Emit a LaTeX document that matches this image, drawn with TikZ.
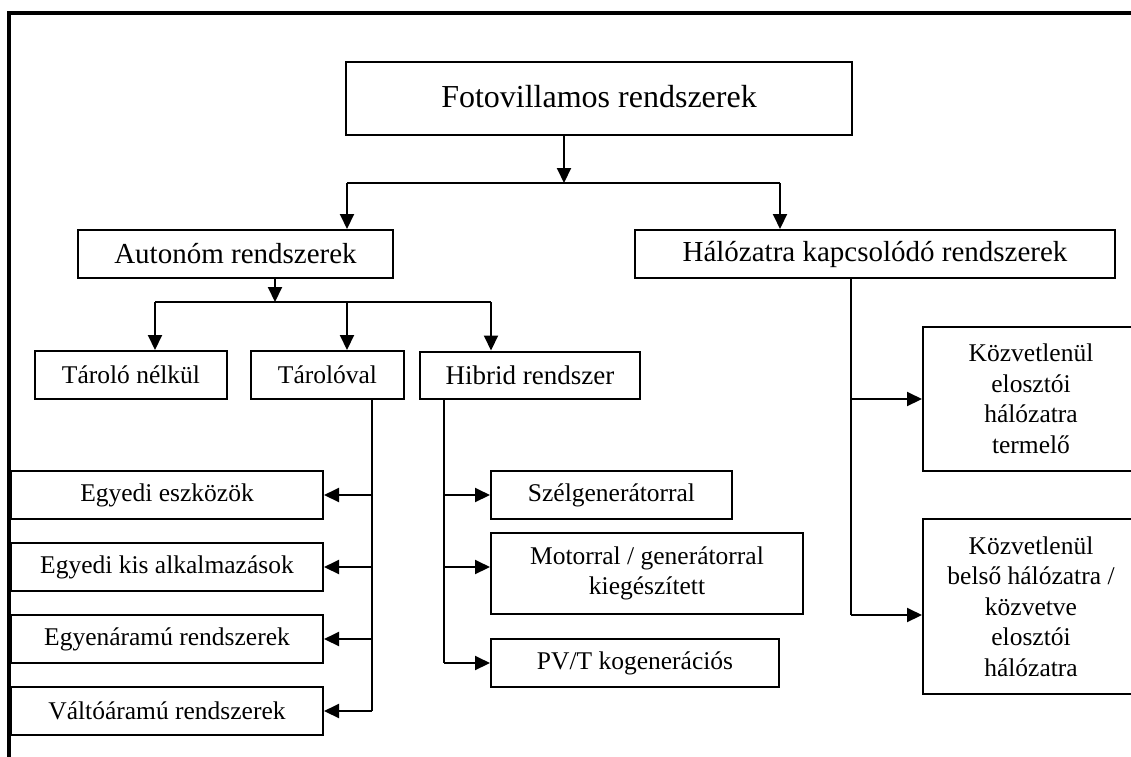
\documentclass[tikz,border=0pt]{standalone}
\usepackage{fontspec}
\setmainfont{Liberation Serif}
\usetikzlibrary{positioning}
\usetikzlibrary{arrows.meta}
\newcommand\nagybetu{\fontsize{32}{38}\selectfont}
\newcommand\kozepbetu{\fontsize{29}{34}\selectfont}
\newcommand\kisbetu{\fontsize{25.5}{30.5}\selectfont}
\tikzstyle{block} = [rectangle, draw=black, line width=2pt, inner sep=0pt, align=center, font=\kisbetu]
\tikzstyle{conn} = [line width=2pt]
\tikzstyle{arrow} = [line width=2pt, -{Triangle[length=15pt,width=14pt]}]

\begin{document}
\begin{tikzpicture}[x=1pt,y=-1pt]
\clip (0,0) rectangle (1131,756);
% keret
\draw[line width=3.6pt] (9,800) -- (9,13) -- (1200,13);
% dobozok
\node[block, minimum width=506pt, minimum height=73pt, font=\nagybetu] (foto) at (599,98.5) {\raisebox{5pt}{Fotovillamos rendszerek}};
\node[block, minimum width=315pt, minimum height=48pt, font=\kozepbetu] (auto) at (235.5,254) {Autonóm rendszerek};
\node[block, minimum width=480pt, minimum height=48pt, font=\kozepbetu] (halo) at (875,254) {Hálózatra kapcsolódó rendszerek};
\node[block, minimum width=192pt, minimum height=48pt] (nelk) at (131,375) {Tároló nélkül};
\node[block, minimum width=153pt, minimum height=48pt] (taro) at (327.5,375) {Tárolóval};
\node[block, minimum width=220pt, minimum height=47pt, font=\fontsize{27}{32}\selectfont] (hibr) at (530,375) {Hibrid rendszer};
\node[block, minimum width=312pt, minimum height=48pt] (egy1) at (167,495) {Egyedi eszközök};
\node[block, minimum width=312pt, minimum height=48pt] (egy2) at (167,567) {Egyedi kis alkalmazások};
\node[block, minimum width=312pt, minimum height=48pt] (egy3) at (167,639) {Egyenáramú rendszerek};
\node[block, minimum width=312pt, minimum height=48pt] (valt) at (167,711) {Váltóáramú rendszerek};
\node[block, minimum width=241pt, minimum height=48pt] (szel) at (611.5,495) {Szélgenerátorral};
\node[block, minimum width=312pt, minimum height=81pt] (moto) at (647,573.5) {Motorral / generátorral\\kiegészített};
\node[block, minimum width=288pt, minimum height=48pt] (pvt) at (635,663) {PV/T kogenerációs};
\node[block, minimum width=216pt, minimum height=144pt] (kozv1) at (1031,399) {Közvetlenül\\elosztói\\hálózatra\\termelő};
\node[block, minimum width=216pt, minimum height=175pt] (kozv2) at (1031,606.5) {Közvetlenül\\belső hálózatra /\\közvetve\\elosztói\\hálózatra};
% felso elagazas
\coordinate (f1) at (564,183);
\coordinate (f2) at (347,183);
\coordinate (f3) at (780,183);
\draw[arrow] (foto.south -| f1) -- (f1);
\draw[conn] (f2) -- (f3);
\draw[arrow] (f2) -- (f2 |- auto.north);
\draw[arrow] (f3) -- (f3 |- halo.north);
% autonom elagazas
\coordinate (a1) at (275,302);
\coordinate (a2) at (155,302);
\coordinate (a3) at (347,302);
\coordinate (a4) at (491,302);
\draw[arrow] (auto.south -| a1) -- (a1);
\draw[conn] (a2) -- (a4);
\draw[arrow] (a2) -- (a2 |- nelk.north);
\draw[arrow] (a3) -- (a3 |- taro.north);
\draw[arrow] (a4) -- (a4 |- hibr.north);
% tarolóval
\coordinate (t0) at (372,0);
\draw[conn] (taro.south -| t0) -- (valt.east -| t0);
\foreach \n in {egy1,egy2,egy3,valt}
  \draw[arrow] (\n.east -| t0) -- (\n.east);
% hibrid
\coordinate (h0) at (444,0);
\coordinate (h2) at (444,567);
\draw[conn] (hibr.south -| h0) -- (pvt.west -| h0);
\draw[arrow] (szel.west -| h0) -- (szel.west);
\draw[arrow] (h2) -- (h2 -| moto.west);
\draw[arrow] (pvt.west -| h0) -- (pvt.west);
% halozatra
\coordinate (k0) at (851,0);
\coordinate (k2) at (851,615);
\draw[conn] (halo.south -| k0) -- (k2);
\draw[arrow] (kozv1.west -| k0) -- (kozv1.west);
\draw[arrow] (k2) -- (k2 -| kozv2.west);
\end{tikzpicture}
\end{document}
